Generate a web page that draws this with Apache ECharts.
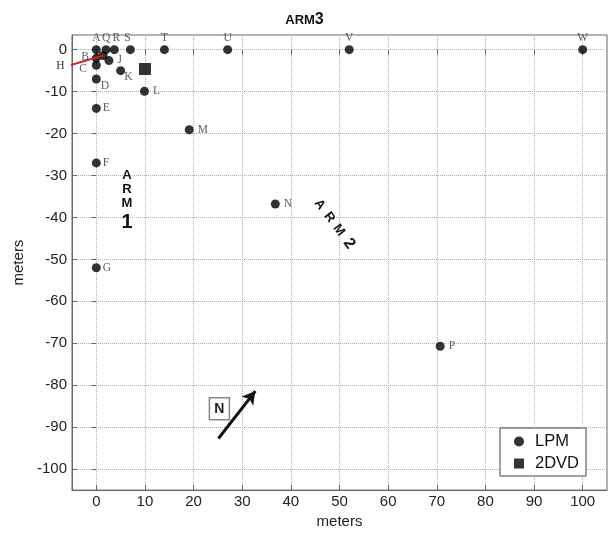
<!DOCTYPE html>
<html><head><meta charset="utf-8">
<script src="https://cdn.jsdelivr.net/npm/echarts@6/dist/echarts.min.js"></script>
<style>html,body{margin:0;padding:0;background:#fff}#c{width:609px;height:534px}</style>
</head><body><div id="c"></div>
<script>
// ---- data ----
const xTicks = [0,10,20,30,40,50,60,70,80,90,100];
const yTicks = [0,-10,-20,-30,-40,-50,-60,-70,-80,-90,-100];
const lpmNames = ['A','Q','R','S','T','U','V','W','B','C','D','E','F','G','H','J','K','L','M','N','P'];
const lpmX =     [0,  2, 3.7, 7, 14, 27, 52,100, 0,  0,  0,  0,  0,  0, 1.4,2.6, 5, 9.9,19.1,36.8,70.7];
const lpmY =     [0,  0,  0,  0,  0,  0,  0,  0, -2,-3.7,-7,-14,-27,-52,-1.4,-2.6,-5,-9.9,-19.1,-36.8,-70.7];
const dvdX = [10];
const dvdY = [-4.6];
const hLine = [[-5.7,-3.8],[1.4,-1.4]];      // red leader line to H
const northArrow = [[25.1,-92.7],[32.7,-81.4]];
const nBoxAt = [25.3,-85.6];
const hLabelAt = [-7.4,-3.8];
const arm1At = [6.3,-35.2];
const arm2At = [48.9,-41.5];
const arm1Text = ['A','R','M','1'];
const arm2Text = ['A','R','M','2'];

// ---- label placement (style) ----
const labelCfg = {
  A:['top',[0,1]], Q:['top',[0,1]], R:['top',[2,1]], S:['top',[-3,1]], T:['top',[0,1]], U:['top',[0,1]], V:['top',[0,1]], W:['top',[0,1]],
  B:['left',[-1,-1]], C:['left',[-3,4]], D:['right',[-2,7]], E:['right',[0,0]], F:['right',[0,0]], G:['right',[0,0]],
  H:null, J:['right',[2,-1]], K:['right',[-3,6]], L:['right',[2,0]], M:['right',[2,0]], N:['right',[2,0]], P:['right',[2,0]]
};

const lpmData = lpmNames.map((n,i)=>{
  const c = labelCfg[n];
  return {name:n, value:[lpmX[i], lpmY[i]],
    label: c ? {show:true, formatter:n, position:c[0], offset:c[1]} : {show:false}};
});

const chart = echarts.init(document.getElementById('c'), null, {renderer:'canvas'});
const axisCol = '#666';
const lblFont = {fontSize:15, fontFamily:'Liberation Sans', color:'#222'};
const tickOnly = (pos, vals, isX) => ({
  type:'value', position:pos, min:isX?-5:-105, max:isX?105:3.5,
  axisLine:{show:false}, axisLabel:{show:false}, splitLine:{show:false},
  axisTick:{show:true, inside:true, length:5, customValues:vals, lineStyle:{color:axisCol}}
});
const option = {
  animation:false,
  backgroundColor:'#fff',
  title:{text:'ARM{b|3}', left:'center', top:7,
    textStyle:{fontSize:13, fontWeight:'bold', fontFamily:'Liberation Sans', color:'#111',
      rich:{b:{fontSize:16, fontWeight:'bold', fontFamily:'Liberation Sans', color:'#111'}}}},
  grid:{left:72, right:2, top:35, bottom:38, show:true, borderColor:axisCol, borderWidth:1, backgroundColor:'transparent'},
  legend:{orient:'vertical', left:500, top:428, backgroundColor:'#fff', borderColor:'#444', borderWidth:1,
    padding:[5,7,4,14], itemGap:5, itemWidth:10, itemHeight:10,
    textStyle:{fontSize:16.5, fontFamily:'Liberation Sans', color:'#111', padding:[0,0,0,6]},
    data:[{name:'LPM', icon:'circle'},{name:'2DVD', icon:'rect'}]},
  xAxis:[{type:'value', min:-5, max:105, position:'bottom',
    name:'meters', nameLocation:'middle', nameGap:21,
    nameTextStyle:{fontSize:15, fontFamily:'Liberation Sans', color:'#222'},
    axisLine:{show:true, onZero:false, lineStyle:{color:axisCol}},
    axisTick:{show:true, inside:true, length:5, customValues:xTicks, lineStyle:{color:axisCol}},
    axisLabel:Object.assign({customValues:xTicks, margin:4}, lblFont),
    splitLine:{show:true, lineStyle:{type:'dotted', color:'#b0b0b0'}}},
    tickOnly('top', xTicks, true)],
  yAxis:[{type:'value', min:-105, max:3.5, position:'left',
    name:'meters', nameLocation:'middle', nameGap:46,
    nameTextStyle:{fontSize:15, fontFamily:'Liberation Sans', color:'#222'},
    axisLine:{show:true, onZero:false, lineStyle:{color:axisCol}},
    axisTick:{show:true, inside:true, length:5, customValues:yTicks, lineStyle:{color:axisCol}},
    axisLabel:Object.assign({customValues:yTicks, margin:5}, lblFont),
    splitLine:{show:true, lineStyle:{type:'dotted', color:'#b0b0b0'}}},
    tickOnly('right', yTicks, false)],
  series:[
    {name:'H-leader', type:'line', data:hLine, clip:false, showSymbol:false, symbol:'none',
      lineStyle:{color:'#d02020', width:2}, silent:true, z:5},
    {name:'LPM', type:'scatter', symbol:'circle', symbolSize:9, clip:false,
      itemStyle:{color:'#000'}, z:3,
      label:{fontSize:11.5, fontFamily:'Liberation Serif', color:'#333', distance:2},
      data:lpmData,
      markLine:{silent:true, animation:false, label:{show:false},
        data:[
          [{coord:northArrow[0], symbol:'none', lineStyle:{color:'#111', width:3, type:'solid'}},
           {coord:northArrow[1], symbol:'arrow', symbolSize:[11,13]}]
        ]}},
    {name:'2DVD', type:'scatter', symbol:'rect', symbolSize:12, itemStyle:{color:'#000'},
      data:dvdX.map((x,i)=>[x,dvdY[i]])}
  ]
};
chart.setOption(option);

const P = c => chart.convertToPixel({gridIndex:0}, c);
const pa1 = P(arm1At), pa2 = P(arm2At), pn = P(nBoxAt), ph = P(hLabelAt);
const gfx = [];
// ARM1 stacked letters
const arm1Dy = [-22,-8,6,25];
arm1Text.forEach((t,i)=>gfx.push({type:'text', x:pa1[0], y:pa1[1]+arm1Dy[i],
  style:{text:t, fontSize:i===3?20:13, fontWeight:'bold', fontFamily:'Liberation Sans', fill:'#111',
    align:'center', verticalAlign:'middle'}}));
// ARM2 rotated letters along a diagonal
const ang = 53*Math.PI/180, arm2D = [-24,-8,8,25];
arm2Text.forEach((t,i)=>gfx.push({type:'text', x:pa2[0]+Math.cos(ang)*arm2D[i], y:pa2[1]+Math.sin(ang)*arm2D[i],
  rotation:-ang,
  style:{text:t, fontSize:i===3?16:13, fontWeight:'bold', fontFamily:'Liberation Sans', fill:'#111',
    align:'center', verticalAlign:'middle'}}));
gfx.push({type:'rect', x:pn[0]-10, y:pn[1]-11, shape:{width:20, height:22}, style:{fill:'#fff', stroke:'#888', lineWidth:1.5}});
gfx.push({type:'text', x:pn[0], y:pn[1], style:{text:'N', fontSize:14, fontWeight:'bold', fontFamily:'Liberation Sans',
  fill:'#222', align:'center', verticalAlign:'middle'}});
gfx.push({type:'text', x:ph[0], y:ph[1], style:{text:'H', fontSize:11.5, fontFamily:'Liberation Serif', fill:'#333',
  align:'center', verticalAlign:'middle'}});
chart.setOption({graphic:gfx});
</script></body></html>
